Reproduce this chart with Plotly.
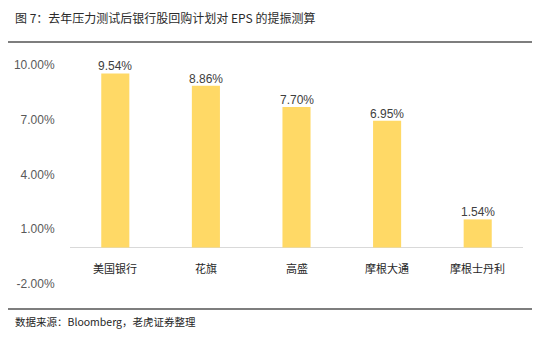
import plotly.graph_objects as go

categories = ["美国银行", "花旗", "高盛", "摩根大通", "摩根士丹利"]
values = [9.54, 8.86, 7.70, 6.95, 1.54]
y_ticks = [-2, 1, 4, 7, 10]
y_tick_labels = ["-2.00%", "1.00%", "4.00%", "7.00%", "10.00%"]
title_text = "图 7：去年压力测试后银行股回购计划对 EPS 的提振测算"
source_text = "数据来源：Bloomberg，老虎证券整理"

W, H = 558, 351
# paper area spans the two decorative rules (x 8..532, y 40..311 px)
PL, PR, PT, PB = 8, 532, 40, 311
ML, MR, MT, MB = PL, W - PR, PT, H - PB

def px_x(px):
    return (px - PL) / (PR - PL)

def px_y(py):
    return (PB - py) / (PB - PT)

FONT = "Liberation Sans, Arial, Noto Sans CJK SC, sans-serif"
CJK = "Noto Sans CJK SC, Liberation Sans, sans-serif"
RULE = "#767676"

fig = go.Figure()
fig.add_trace(go.Bar(
    x=categories, y=values,
    marker=dict(color="#FFD966", line=dict(width=0)),
    width=0.31, hoverinfo="skip",
))

# decorative rules under the title and above the source note, on a full-paper overlay subplot
for py in (42, 309):
    fig.add_trace(go.Scatter(
        x=[px_x(8), px_x(532)], y=[px_y(py), px_y(py)], mode="lines",
        line=dict(color=RULE, width=1.5), xaxis="x2", yaxis="y2",
        hoverinfo="skip", showlegend=False,
    ))
    fig.add_shape(type="line", xref="paper", yref="paper",
                  x0=px_x(8), x1=px_x(532), y0=px_y(py), y1=px_y(py),
                  line=dict(color=RULE, width=1.5))

for c, v in zip(categories, values):
    fig.add_annotation(x=c, y=v, xref="x", yref="y", text=f"{v:.2f}%", showarrow=False,
                       yanchor="bottom", yshift=-2,
                       font=dict(family=FONT, size=12, color="#404040"))
    fig.add_annotation(x=c, y=0, xref="x", yref="y", text=c, showarrow=False,
                       yshift=-20, font=dict(family=CJK, size=11, color="#262626"))

fig.add_annotation(x=px_x(13), y=px_y(18), xref="paper", yref="paper", text=title_text,
                   showarrow=False, xanchor="left", yanchor="middle",
                   font=dict(family=CJK, size=12, color="#2b2b2b"))
fig.add_annotation(x=px_x(13), y=px_y(322), xref="paper", yref="paper", text=source_text,
                   showarrow=False, xanchor="left", yanchor="middle",
                   font=dict(family=CJK, size=10.5, color="#262626"))

fig.update_layout(
    width=W, height=H,
    margin=dict(l=ML, r=MR, t=MT, b=MB),
    paper_bgcolor="white", plot_bgcolor="rgba(0,0,0,0)",
    showlegend=False,
    xaxis=dict(domain=[px_x(70), px_x(523)], anchor="y",
               showticklabels=False, showgrid=False, showline=False, zeroline=False, ticks=""),
    yaxis=dict(domain=[px_y(284), px_y(65)], anchor="x",
               range=[-2, 10], tickmode="array", tickvals=y_ticks, ticktext=y_tick_labels,
               showgrid=False, showline=False, zeroline=True, zerolinecolor="#d9d9d9", zerolinewidth=1,
               ticks="outside", ticklen=12, tickcolor="rgba(0,0,0,0)",
               tickfont=dict(family=FONT, size=12, color="#595959")),
    xaxis2=dict(domain=[0, 1], range=[0, 1], anchor="y2", visible=False, fixedrange=True),
    yaxis2=dict(domain=[0, 1], range=[0, 1], anchor="x2", visible=False, fixedrange=True),
)

fig.write_html("out.html")
